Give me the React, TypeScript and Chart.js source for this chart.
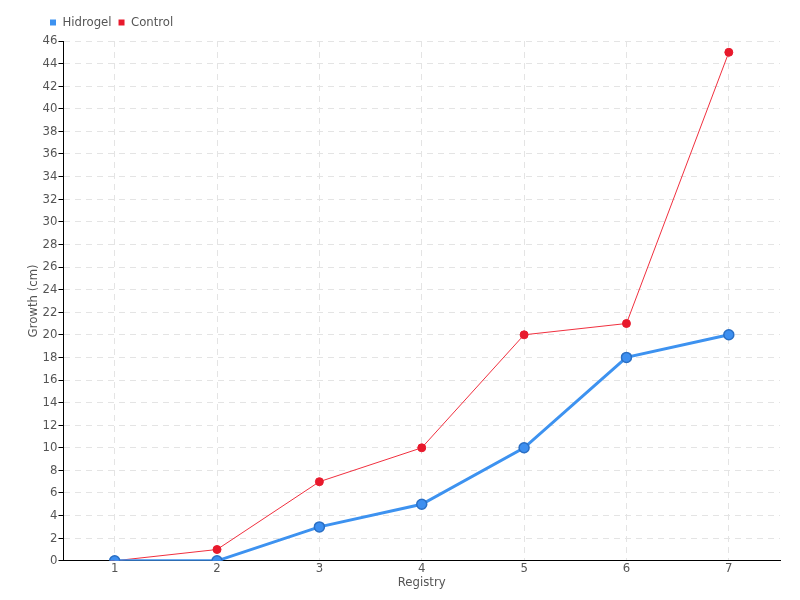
import React, { useEffect, useRef } from "react";
import { Chart, registerables } from "chart.js";

Chart.register(...registerables);

const categories = ["1", "2", "3", "4", "5", "6", "7"];
const hidrogel = [0, 0, 3, 5, 10, 18, 20];
const control = [0, 1, 7, 10, 20, 21, 45];

const FONT = "'DejaVu Sans Condensed', 'DejaVu Sans', sans-serif";

const legendShift = {
  id: "legendShift",
  afterLayout(chart: any) {
    const lg = chart.legend;
    if (!lg) return;
    lg.left += 21;
    lg.right += 21;
    lg.top -= 2;
    lg.bottom -= 2;
  },
};

export default function App() {
  const ref = useRef<HTMLCanvasElement | null>(null);
  useEffect(() => {
    if (!ref.current) return;
    const chart = new Chart(ref.current, {
      type: "line",
      data: {
        labels: categories,
        datasets: [
          {
            label: "Hidrogel",
            data: hidrogel,
            borderColor: "#3d92f0",
            backgroundColor: "#3d92f0",
            pointBackgroundColor: "#3d8ff0",
            pointBorderColor: "#2a6fc4",
            pointBorderWidth: 1.5,
            borderWidth: 3,
            pointRadius: 5,
            tension: 0,
          },
          {
            label: "Control",
            data: control,
            borderColor: "#f0303f",
            backgroundColor: "#e8192c",
            pointBackgroundColor: "#e8192c",
            pointBorderColor: "#e8192c",
            borderWidth: 1,
            pointRadius: 4,
            tension: 0,
          },
        ],
      },
      plugins: [legendShift],
      options: {
        animation: false,
        responsive: false,
        maintainAspectRatio: false,
        layout: { padding: { left: 22, right: 20, top: 11, bottom: 10 } },
        plugins: {
          legend: {
            align: "start",
            position: "top",
            labels: {
              boxWidth: 6,
              boxHeight: 6,
              padding: 7,
              color: "#555",
              font: { family: FONT, size: 13 },
              generateLabels: (c: any) =>
                c.data.datasets.map((d: any, i: number) => ({
                  text: d.label,
                  fillStyle: d.backgroundColor,
                  strokeStyle: d.backgroundColor,
                  lineWidth: 0,
                  datasetIndex: i,
                  fontColor: "#555",
                })),
            },
          },
          tooltip: { enabled: false },
        },
        scales: {
          x: {
            offset: true,
            grid: {
              offset: false,
              color: "#e4e4e4",
              drawTicks: false,
            },
            border: { color: "#000", dash: [6, 5], width: 1 },
            ticks: { color: "#555", font: { family: FONT, size: 13 }, padding: 0 },
            title: {
              display: true,
              text: "Registry",
              color: "#555",
              font: { family: FONT, size: 13 },
              padding: { top: -2, bottom: 0 },
            },
          },
          y: {
            min: 0,
            max: 46,
            grid: {
              color: "#e4e4e4",
              tickColor: "#000",
              tickLength: 5,
            },
            border: { color: "#000", dash: [6, 5] },
            ticks: {
              stepSize: 2,
              color: "#555",
              font: { family: FONT, size: 13 },
              padding: 1,
            },
            title: {
              display: true,
              text: "Growth (cm)",
              color: "#555",
              font: { family: FONT, size: 13 },
              padding: { top: 4, bottom: 0 },
            },
          },
        },
      },
    });
    return () => chart.destroy();
  }, []);
  return (
    <div style={{ position: "fixed", left: 0, top: 0, width: 800, height: 600, background: "#fff" }}>
      <canvas ref={ref} width={800} height={600} />
    </div>
  );
}
